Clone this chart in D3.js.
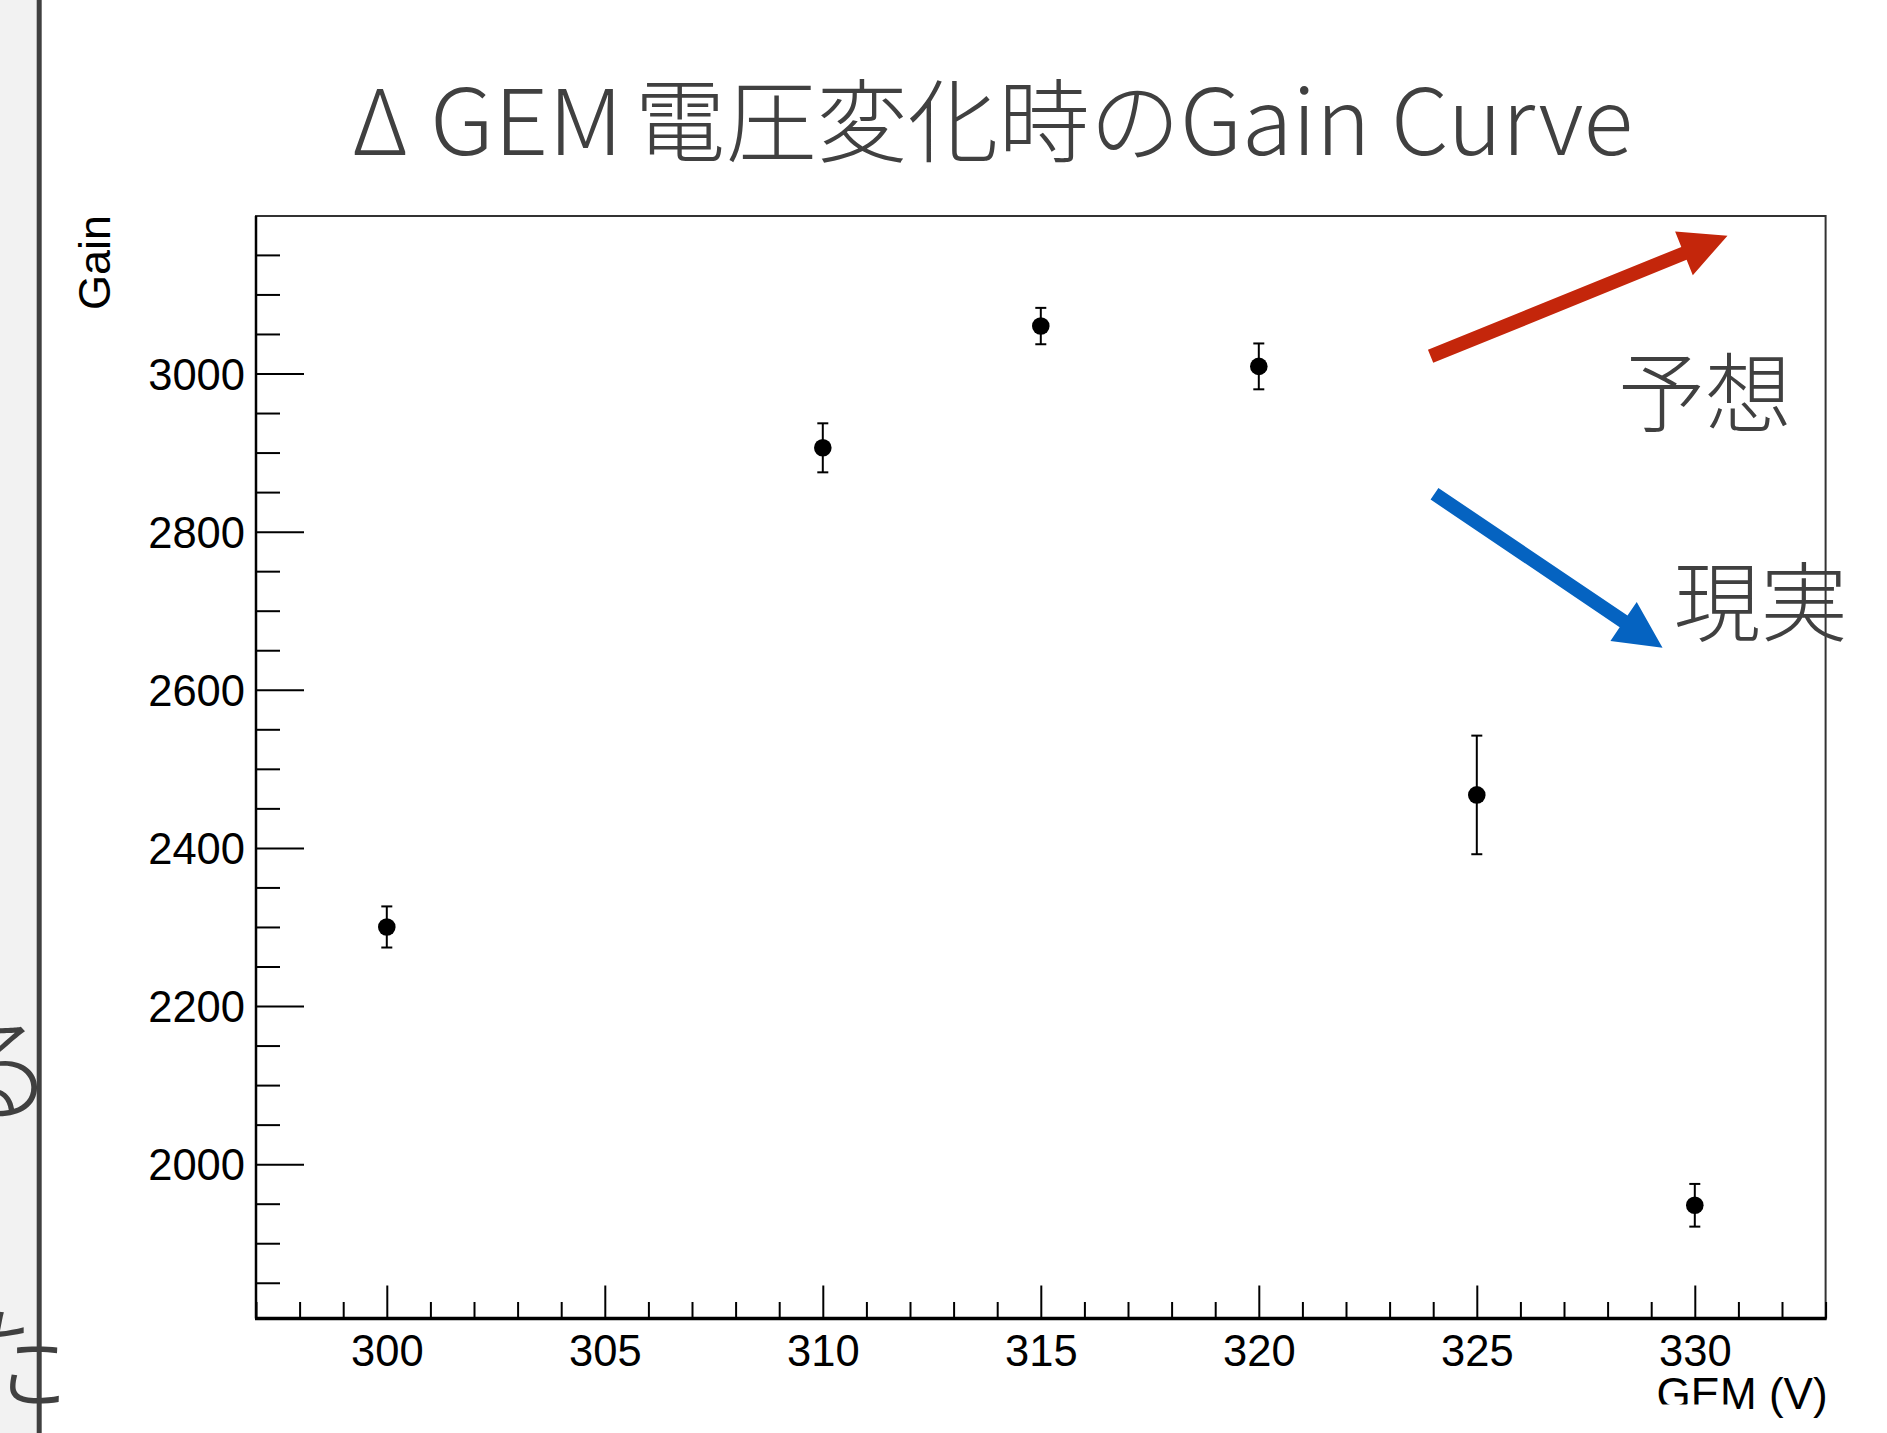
<!DOCTYPE html>
<html><head><meta charset="utf-8">
<script src="https://cdn.jsdelivr.net/npm/d3@7"></script>
<style>html,body{margin:0;padding:0;background:#fff;overflow:hidden}</style>
</head><body>
<svg id="chart" width="1887" height="1433"></svg>
<script>
// ---- data ----
const voltages   = [300, 310, 315, 320, 325, 330];
const gains      = [2300, 2906, 3060, 3009, 2467, 1948];
const gainErrors = [26, 31, 23, 29, 75, 27];
const xMajorTicks = [300, 305, 310, 315, 320, 325, 330];
const yMajorTicks = [2000, 2200, 2400, 2600, 2800, 3000];
const titleParts = ["Δ", "GEM", "電圧変化時の", "Gain Curve"];
const xTitle = "GEM (V)";
const yTitle = "Gain";
const noteExpected = "予想";
const noteActual = "現実";
const sideGlyphs = ["る", "た"];
// annotation anchors in data units [voltage, gain]
const arrowExpected = [[323.94, 3021.7], [330.75, 3174.3]];
const arrowActual   = [[324.03, 2847.9], [329.26, 2653.2]];
const noteExpectedAt = [328.24, 2934.1];
const noteActualAt   = [329.51, 2669.3];

// ---- layout ----
const W = 1887, H = 1433;
const L = 256, R = 1825.6, T = 216, B = 1318.5;
const svg = d3.select("#chart");
const axisFont = "'Liberation Sans', Arial, Helvetica, sans-serif";
const jpFont = "'Noto Sans CJK JP', 'Noto Sans CJK SC', sans-serif";

svg.append("rect").attr("width", W).attr("height", H).attr("fill", "#fff");

// ROOT-like automatic ranges
const xmin = d3.min(voltages), xmax = d3.max(voltages), dx = xmax - xmin;
const ylo = d3.min(gains.map((g, i) => g - gainErrors[i]));
const yhi = d3.max(gains.map((g, i) => g + gainErrors[i]));
const dy = yhi - ylo;
const x = d3.scaleLinear().domain([xmin - 0.1 * dx, xmax + 0.1 * dx]).range([L, R]);
const y = d3.scaleLinear().domain([ylo - 0.1 * dy, yhi + 0.1 * dy]).range([B, T]);

// left slide strip
svg.append("rect").attr("x", 0).attr("y", 0).attr("width", 37).attr("height", H).attr("fill", "#f2f2f2");
svg.append("text").attr("x", -60).attr("y", 1112).attr("font-family", jpFont).attr("font-weight", 300)
  .attr("font-size", 115).attr("fill", "#404040").text(sideGlyphs[0]);
svg.append("text").attr("x", -45).attr("y", 1402).attr("font-family", jpFont).attr("font-weight", 300)
  .attr("font-size", 115).attr("fill", "#404040").text(sideGlyphs[1]);
svg.append("line").attr("x1", 39.2).attr("x2", 39.2).attr("y1", 0).attr("y2", H)
  .attr("stroke", "#404040").attr("stroke-width", 5);

// title
const titleSpec = [[352, 56], [430, 193], [634.5, 546], [1180, 453]];
titleParts.forEach((t, i) => {
  svg.append("text").attr("x", titleSpec[i][0]).attr("y", 155)
    .attr("font-family", jpFont).attr("font-weight", 300).attr("font-size", 91)
    .attr("fill", "#404040")
    .attr("textLength", titleSpec[i][1]).attr("lengthAdjust", "spacingAndGlyphs")
    .text(t);
});

// frame
svg.append("rect").attr("x", L).attr("y", T).attr("width", R - L).attr("height", B - T)
  .attr("fill", "none").attr("stroke", "#333").attr("stroke-width", 2);

// x axis
const xMinor = d3.range(297, 334, 1).filter(v => !xMajorTicks.includes(v));
const gxMinor = svg.append("g").attr("transform", `translate(0,${B})`)
  .call(d3.axisBottom(x).tickValues(xMinor).tickSizeInner(-16.5).tickSizeOuter(0).tickFormat(""));
const gx = svg.append("g").attr("transform", `translate(0,${B})`)
  .call(d3.axisBottom(x).tickValues(xMajorTicks).tickSizeInner(-33).tickSizeOuter(0).tickPadding(16.3).tickFormat(d3.format("d")));
// y axis
const yMinor = d3.range(1850, 3199, 50).filter(v => !yMajorTicks.includes(v));
const gyMinor = svg.append("g").attr("transform", `translate(${L},0)`)
  .call(d3.axisLeft(y).tickValues(yMinor).tickSizeInner(-24).tickSizeOuter(0).tickFormat(""));
const gy = svg.append("g").attr("transform", `translate(${L},0)`)
  .call(d3.axisLeft(y).tickValues(yMajorTicks).tickSizeInner(-48).tickSizeOuter(0).tickPadding(11).tickFormat(d3.format("d")));

[gxMinor, gx, gyMinor, gy].forEach(g => {
  g.select(".domain").remove();
  g.selectAll(".tick line").attr("stroke", "#000").attr("stroke-width", 2);
  g.selectAll(".tick text").attr("font-family", axisFont).attr("font-size", 43.5).attr("fill", "#000");
});
gy.selectAll(".tick text").attr("dy", "0.36em");

// axis lines
svg.append("line").attr("x1", L).attr("x2", L).attr("y1", T).attr("y2", B)
  .attr("stroke", "#000").attr("stroke-width", 2.5);
svg.append("line").attr("x1", L - 1).attr("x2", R + 1).attr("y1", B).attr("y2", B)
  .attr("stroke", "#000").attr("stroke-width", 3.5);

// axis titles
svg.append("text").attr("x", R + 2).attr("y", 1409).attr("text-anchor", "end")
  .attr("font-family", axisFont).attr("font-size", 44).attr("fill", "#000").text(xTitle);
svg.append("rect").attr("x", 1650).attr("y", 1404.5).attr("width", 79).attr("height", 30).attr("fill", "#fff");
svg.append("text").attr("transform", `translate(110,${T - 1}) rotate(-90)`).attr("text-anchor", "end")
  .attr("font-family", axisFont).attr("font-size", 45).attr("fill", "#000").text(yTitle);

// data: error bars + markers
const pts = voltages.map((v, i) => ({v, g: gains[i], e: gainErrors[i]}));
const gp = svg.append("g");
gp.selectAll("line.err").data(pts).join("line").attr("class", "err")
  .attr("x1", d => x(d.v)).attr("x2", d => x(d.v))
  .attr("y1", d => y(d.g - d.e)).attr("y2", d => y(d.g + d.e))
  .attr("stroke", "#000").attr("stroke-width", 2);
["lo", "hi"].forEach(k => {
  gp.selectAll("line.cap" + k).data(pts).join("line").attr("class", "cap" + k)
    .attr("x1", d => x(d.v) - 5.5).attr("x2", d => x(d.v) + 5.5)
    .attr("y1", d => y(k === "lo" ? d.g - d.e : d.g + d.e))
    .attr("y2", d => y(k === "lo" ? d.g - d.e : d.g + d.e))
    .attr("stroke", "#000").attr("stroke-width", 2);
});
gp.selectAll("circle").data(pts).join("circle")
  .attr("cx", d => x(d.v)).attr("cy", d => y(d.g)).attr("r", 8.8).attr("fill", "#000");

// annotation arrows
function arrow(a, color) {
  const x0 = x(a[0][0]), y0 = y(a[0][1]), x1 = x(a[1][0]), y1 = y(a[1][1]);
  const len = Math.hypot(x1 - x0, y1 - y0);
  const ux = (x1 - x0) / len, uy = (y1 - y0) / len, px = -uy, py = ux;
  const hl = 47, hw = 23.5, sw = 7;
  const bx = x1 - ux * hl, by = y1 - uy * hl;
  const p = [
    [x0 + px * sw, y0 + py * sw], [bx + px * sw, by + py * sw], [bx + px * hw, by + py * hw],
    [x1, y1], [bx - px * hw, by - py * hw], [bx - px * sw, by - py * sw], [x0 - px * sw, y0 - py * sw]
  ];
  svg.append("polygon").attr("points", p.map(q => q.join(",")).join(" ")).attr("fill", color);
}
arrow(arrowExpected, "#c4260b");
arrow(arrowActual, "#0563c1");

svg.append("text").attr("x", x(noteExpectedAt[0])).attr("y", y(noteExpectedAt[1]))
  .attr("font-family", jpFont).attr("font-weight", 300).attr("font-size", 87).attr("fill", "#404040")
  .text(noteExpected);
svg.append("text").attr("x", x(noteActualAt[0])).attr("y", y(noteActualAt[1]))
  .attr("font-family", jpFont).attr("font-weight", 300).attr("font-size", 87).attr("fill", "#404040")
  .text(noteActual);
</script>
</body></html>
